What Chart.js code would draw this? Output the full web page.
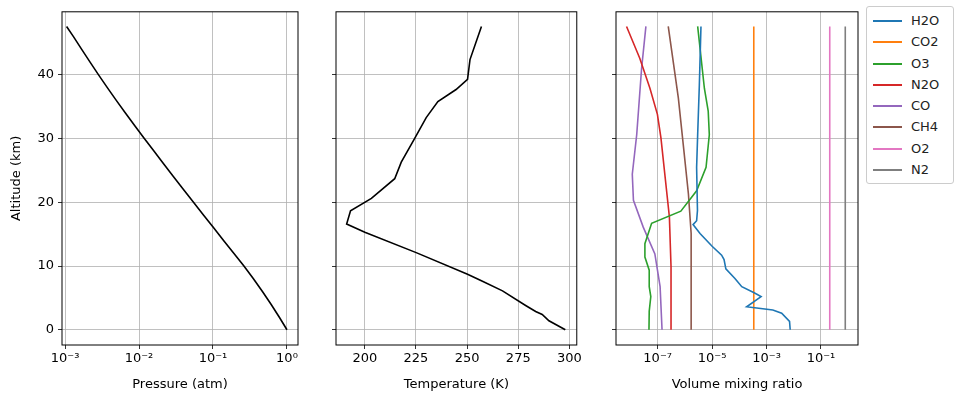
<!DOCTYPE html>
<html>
<head>
<meta charset="utf-8">
<script src="https://cdn.jsdelivr.net/npm/chart.js@4"></script>
<style>
body { margin: 0; background: #fff; font-family: "DejaVu Sans", sans-serif; }
.box { position: absolute; top: 0; height: 403px; }
#legend { position: absolute; left: 866px; top: 6px; width: 86px; border: 1px solid #ccc; border-radius: 3px; padding: 3px 0; font-size: 13px; color: #222; }
#legend div { height: 21.3px; line-height: 21.3px; position: relative; padding-left: 44px; }
#legend span { position: absolute; left: 6px; top: 10px; width: 29px; height: 2px; }
</style>
</head>
<body>
<div class="box" style="left:0;width:305px"><canvas id="c1"></canvas></div>
<div class="box" style="left:326px;width:258px"><canvas id="c2"></canvas></div>
<div class="box" style="left:606px;width:258px"><canvas id="c3"></canvas></div>
<div id="legend"></div>
<script>
// pressure profile
const pAlt = [0, 2, 4, 6, 8, 10, 12, 14, 16, 18, 20, 22, 24, 26, 28, 30, 32, 34, 36, 38, 40, 42, 44, 46, 47.6];
const pressure = [1, 0.785, 0.609, 0.466, 0.352, 0.262, 0.191, 0.139, 0.102, 0.0743, 0.0545, 0.0399, 0.0293, 0.0216, 0.016, 0.0118, 0.00877, 0.00655, 0.00493, 0.00373, 0.00284, 0.00218, 0.00168, 0.0013, 0.00105];

// temperature profile
const tAlt = [0, 1.4, 2.4, 2.85, 3.8, 6.1, 7.6, 8.7, 12.1, 15.3, 16.6, 18.65, 20.6, 23.7, 26.3, 30.0, 33.3, 35.8, 37.7, 39.3, 42.4, 47.6];
const temperature = [298, 290, 286.7, 283.5, 278.6, 267.3, 257.5, 250.2, 225.1, 200, 191.1, 193, 203.2, 214.6, 217.8, 224.3, 230, 235.7, 244.6, 250.2, 251.4, 257];

// gases
const h2oAlt = [0, 1.3, 2.6, 3.1, 3.6, 5.2, 5.8, 6.75, 8.05, 9.56, 11, 11.7, 13.1, 15.1, 16.5, 17.1, 18.7, 25.5, 30.6, 38.4, 47.6];
const h2o = [7.4e-3, 7.0e-3, 3.6e-3, 1.7e-3, 1.86e-4, 6.3e-4, 3.5e-4, 1.23e-4, 6.9e-5, 3.2e-5, 2.75e-5, 2.24e-5, 1.0e-5, 3.6e-6, 2.0e-6, 2.7e-6, 2.9e-6, 2.7e-6, 2.95e-6, 3.4e-6, 3.9e-6];
const o3Alt = [0, 2.9, 5.2, 6.75, 9.35, 11.4, 13.5, 16.7, 18.6, 21.8, 25.5, 30.6, 34.3, 37.9, 47.6];
const o3 = [4.8e-8, 4.9e-8, 5.6e-8, 4.9e-8, 4.9e-8, 3.4e-8, 3.4e-8, 6.0e-8, 7.1e-7, 2.7e-6, 6.0e-6, 7.9e-6, 7.2e-6, 5.2e-6, 2.95e-6];
const n2oAlt = [0, 9.9, 17.7, 30.1, 33.8, 37.9, 42.6, 47.6];
const n2o = [3.1e-7, 3.1e-7, 2.7e-7, 1.32e-7, 9.8e-8, 5.2e-8, 2.2e-8, 7.2e-9];
const coAlt = [0, 6.75, 11.9, 16.1, 20.3, 24.4, 30.6, 41, 47.6];
const co = [1.45e-7, 1.23e-7, 7.9e-8, 2.95e-8, 1.29e-8, 1.17e-8, 1.7e-8, 2.57e-8, 3.7e-8];
const ch4Alt = [0, 15.1, 21.3, 29.1, 36.4, 47.6];
const ch4 = [1.7e-6, 1.7e-6, 1.35e-6, 8.7e-7, 5.75e-7, 2.45e-7];
const flatAlt = [0, 47.6];
const co2 = [3.4e-4, 3.4e-4];
const o2 = [0.21, 0.21];
const n2 = [0.78, 0.78];

const gasNames = ['H2O', 'CO2', 'O3', 'N2O', 'CO', 'CH4', 'O2', 'N2'];
const gasColors = ['#1f77b4', '#ff7f0e', '#2ca02c', '#d62728', '#9467bd', '#8c564b', '#e377c2', '#7f7f7f'];
const gasAlts = [h2oAlt, flatAlt, o3Alt, n2oAlt, coAlt, ch4Alt, flatAlt, flatAlt];
const gasVals = [h2o, co2, o3, n2o, co, ch4, o2, n2];

const altTicks = [0, 10, 20, 30, 40];
const sup = {'-': '⁻', '0': '⁰', '1': '¹', '2': '²', '3': '³', '4': '⁴', '5': '⁵', '6': '⁶', '7': '⁷', '8': '⁸', '9': '⁹'};
function pow10(v) {
  const e = Math.round(Math.log10(v));
  return '10' + String(e).split('').map(c => sup[c]).join('');
}

Chart.defaults.font.family = '"DejaVu Sans", sans-serif';
Chart.defaults.font.size = 13;
Chart.defaults.color = '#000';
Chart.defaults.animation = false;

const frame = {
  id: 'frame',
  afterDraw(chart) {
    const a = chart.chartArea, ctx = chart.ctx;
    ctx.save();
    ctx.strokeStyle = '#000';
    ctx.lineWidth = 1;
    ctx.strokeRect(a.left, a.top, a.right - a.left, a.bottom - a.top);
    ctx.restore();
  }
};

function pts(xs, ys) { return xs.map((x, i) => ({x: x, y: ys[i]})); }

function makeChart(id, datasets, xScale, yWidth, showY, rightPad, leftPad) {
  new Chart(document.getElementById(id), {
    type: 'line',
    data: {datasets: datasets},
    plugins: [frame],
    options: {
      responsive: false,
      maintainAspectRatio: false,
      layout: {padding: {top: 9, right: rightPad, left: leftPad, bottom: 7}},
      plugins: {legend: {display: false}, tooltip: {enabled: false}},
      elements: {point: {radius: 0}, line: {borderWidth: 1.6, tension: 0}},
      scales: {
        x: Object.assign({
          position: 'bottom',
          afterFit: s => { s.height = 51; },
          grid: {color: '#b0b0b0', lineWidth: 0.8, tickColor: '#000', tickLength: 4},
          border: {display: false},
          title: {display: true, text: xScale.label, font: {size: 13}, padding: {top: 0}}
        }, xScale.opts),
        y: {
          type: 'linear', min: -2.4, max: 49.9,
          afterBuildTicks: s => { s.ticks = altTicks.map(v => ({value: v})); },
          afterFit: s => { s.width = yWidth; },
          grid: {color: '#b0b0b0', lineWidth: 0.8, tickColor: '#000', tickLength: 4},
          border: {display: false},
          ticks: {callback: v => showY ? v : '', padding: 4},
          title: {display: showY, text: 'Altitude (km)', font: {size: 13}}
        }
      }
    }
  });
}

function sizeCanvas(id, w) {
  const c = document.getElementById(id);
  c.width = w; c.height = 403;
  c.style.width = w + 'px'; c.style.height = '403px';
}
sizeCanvas('c1', 305); sizeCanvas('c2', 258); sizeCanvas('c3', 258);

makeChart('c1', [{data: pts(pressure, pAlt), borderColor: '#000'}], {
  label: 'Pressure (atm)',
  opts: {
    type: 'logarithmic', min: 9.1e-4, max: 1.41,
    afterBuildTicks: s => { s.ticks = [1e-3, 1e-2, 1e-1, 1].map(v => ({value: v})); },
    ticks: {callback: v => pow10(v), maxRotation: 0, padding: 2}
  }
}, 57, true, 7, 5);

makeChart('c2', [{data: pts(temperature, tAlt), borderColor: '#000'}], {
  label: 'Temperature (K)',
  opts: {
    type: 'linear', min: 185.9, max: 303.6,
    afterBuildTicks: s => { s.ticks = [200, 225, 250, 275, 300].map(v => ({value: v})); },
    ticks: {maxRotation: 0, padding: 2}
  }
}, 10, false, 6, 0);

makeChart('c3', gasNames.map((n, i) => ({label: n, data: pts(gasVals[i], gasAlts[i]), borderColor: gasColors[i]})), {
  label: 'Volume mixing ratio',
  opts: {
    type: 'logarithmic', min: 2.95e-9, max: 2.29,
    afterBuildTicks: s => { s.ticks = [1e-7, 1e-5, 1e-3, 1e-1].map(v => ({value: v})); },
    ticks: {callback: v => pow10(v), maxRotation: 0, padding: 2}
  }
}, 10, false, 6, 0);

const leg = document.getElementById('legend');
gasNames.forEach((n, i) => {
  const d = document.createElement('div');
  d.innerHTML = '<span style="background:' + gasColors[i] + '"></span>' + n;
  leg.appendChild(d);
});
</script>
</body>
</html>
